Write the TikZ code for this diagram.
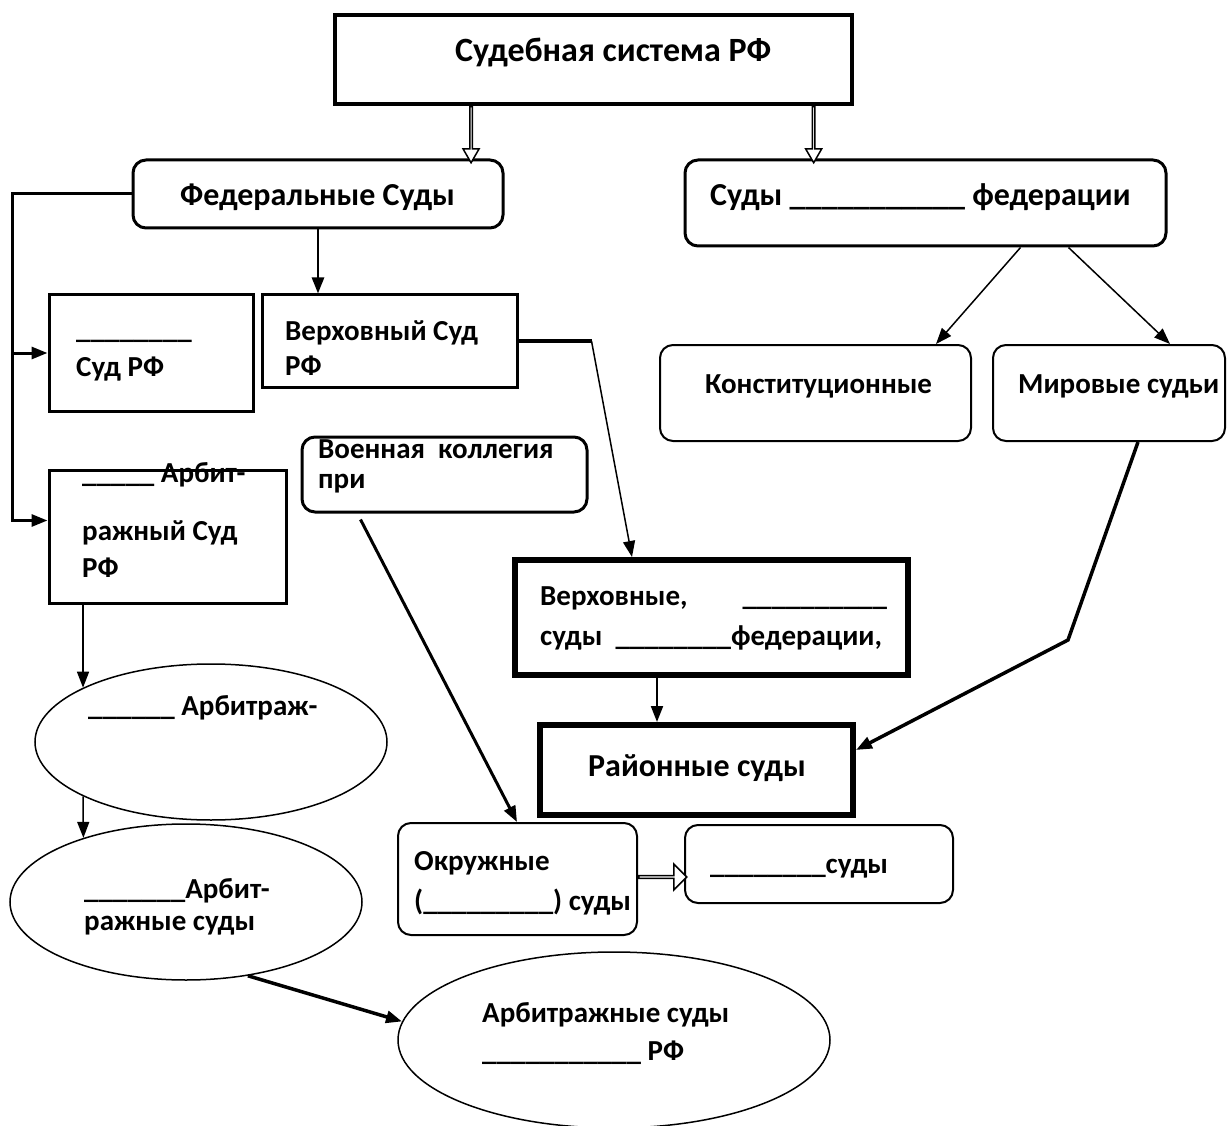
\documentclass[tikz,border=0pt]{standalone}
\usepackage{fontspec}
\setmainfont{Carlito}
\usetikzlibrary{positioning,calc,shapes,arrows.meta}

\newcommand\boxfont{\fontsize{29}{35}\selectfont\bfseries}
\newcommand\bigboxfont{\fontsize{32}{38}\selectfont\bfseries}
\newcommand\headfont{\fontsize{34}{40}\selectfont\bfseries}

\begin{document}
\begin{tikzpicture}[x=1pt,y=-1pt,>={Triangle[length=16pt,width=12pt]},
  box/.style={draw,line width=3pt,inner sep=0pt},
  rbox/.style={box,rounded corners=13pt},
  heavy/.style={draw,line width=6pt,inner sep=0pt},
  oval/.style={draw,ellipse,line width=1.5pt,inner sep=0pt},
  txt/.style={anchor=base west,inner sep=0pt,align=left,font=\boxfont},
  hollow/.style={draw,single arrow,line width=1.5pt,inner sep=0pt,fill=white}]
  \useasboundingbox (0,0) rectangle (1227,1126);

  \node[box,line width=4pt,minimum width=517pt,minimum height=89pt] (sys) at (593.5,59.5) {};
  \node[txt,font=\headfont] (sys-t) at (455,62) {Судебная система РФ};

  \node[rbox,minimum width=370pt,minimum height=68pt] (fed) at (318,194) {};
  \node[txt,font=\bigboxfont] (fed-t) at (180,206) {Федеральные Суды};
  \node[rbox,minimum width=481pt,minimum height=86pt] (subj) at (925.5,203) {};
  \node[txt,font=\bigboxfont] (subj-t) at (710,206) {Суды \_\_\_\_\_\_\_\_\_\_\_ федерации};

  \node[hollow,rotate=-90,anchor=tail,minimum height=56pt,minimum width=16pt,
    single arrow head extend=4pt,single arrow tip angle=60] (a-fed)
    at ($(sys.south west)!0.265!(sys.south east)$) {};
  \node[hollow,rotate=-90,anchor=tail,minimum height=56pt,minimum width=16pt,
    single arrow head extend=4pt,single arrow tip angle=60] (a-subj)
    at ($(sys.south west)!0.9226!(sys.south east)$) {};

  \node[box,minimum width=204pt,minimum height=116pt] (sudrf) at (151,353) {};
  \node[txt] (sudrf-t) at (76,376) {\_\_\_\_\_\_\_\_\\[3pt]Суд РФ};
  \node[box,minimum width=255pt,minimum height=92pt] (ver) at (389.5,341) {};
  \node[txt] (ver-t) at (285,375) {Верховный Суд\\РФ};
  \node[rbox,minimum width=285pt,minimum height=75pt] (voen) at (444.5,474.5) {};
  \node[txt] (voen-t) at (318,488) {Военная\ \ коллегия\\[-5pt]при};
  \node[box,minimum width=237pt,minimum height=133pt] (arb) at (167.5,536.5) {};
  \node[txt] (arb-t) at (82,577) {\_\_\_\_\_ Арбит-\\[23pt]ражный Суд\\[2pt]РФ};

  \node[rbox,line width=2pt,minimum width=311pt,minimum height=96pt] (konst) at (815.5,393) {};
  \node[txt] (konst-t) at (705,393) {Конституционные};
  \node[rbox,line width=2pt,minimum width=232pt,minimum height=96pt] (mir) at (1109,393) {};
  \node[txt] (mir-t) at (1018,393) {Мировые судьи};

  \node[heavy,minimum width=393pt,minimum height=115pt] (verh) at (711.5,617.5) {};
  \node[txt] (verh-t) at (540,645) {Верховные,\hspace{1.9em}\_\_\_\_\_\_\_\_\_\_\\[5pt]суды\ \ \_\_\_\_\_\_\_\_федерации,};
  \node[heavy,minimum width=313pt,minimum height=90pt] (rai) at (696.5,770) {};
  \node[txt,font=\bigboxfont] (rai-t) at (588,776) {Районные суды};

  \node[rbox,line width=2pt,minimum width=239pt,minimum height=112pt] (okr) at (517.5,879) {};
  \node[txt] (okr-t) at (414,910) {Окружные\\[5pt](\_\_\_\_\_\_\_\_\_) суды};
  \node[rbox,line width=2pt,minimum width=268pt,minimum height=78pt] (oth) at (819,864) {};
  \node[txt] (oth-t) at (710,873) {\_\_\_\_\_\_\_\_суды};
  \node[hollow,anchor=tail,minimum height=48pt,minimum width=26pt,
    single arrow head extend=7pt] (a-okr) at ($(okr.east)+(0,-2)$) {};

  \node[oval,minimum width=352pt,minimum height=156pt] (ell1) at (211,742) {};
  \node[txt] (ell1-t) at (88,715) {\_\_\_\_\_\_ Арбитраж-};
  \node[oval,minimum width=352pt,minimum height=156pt] (ell2) at (186,902) {};
  \node[txt] (ell2-t) at (84,930) {\_\_\_\_\_\_\_Арбит-\\[-3pt]ражные суды};
  \node[oval,minimum width=432pt,minimum height=176pt] (ell3) at (614,1040) {};
  \node[txt] (ell3-t) at (482,1060) {Арбитражные суды\\[3pt]\_\_\_\_\_\_\_\_\_\_\_ РФ};

  \coordinate (lft) at (12,0);
  \coordinate (arbin) at ($(arb.west)+(0,-16)$);
  \coordinate (vbend) at ($(ver.east)+(73,0)$);
  \coordinate (mbend) at (1068,640);
  \coordinate (rtop) at ($(rai.north west)+(120,0)$);

  \draw[->,line width=2.5pt] (fed.south) -- (fed.south |- ver.north);
  \draw[->,line width=3pt] (fed.west) -| (lft |- arbin) -- (arbin);
  \draw[->,line width=3pt] (lft |- sudrf.west) -- (sudrf.west);
  \draw[line width=3.5pt] (ver.east) -- (vbend);
  \draw[->,line width=1.5pt] (vbend) -- ($(verh.north west)+(120,0)$);
  \draw[->,line width=3pt] ($(voen.south west)+(60,6)$) -- ($(okr.north west)+(120,0)$);
  \draw[->,line width=1.5pt] ($(subj.south)+(95,0)$) -- ($(konst.north east)+(-36,0)$);
  \draw[->,line width=1.5pt] ($(subj.south)+(143,0)$) -- ($(mir.north)+(61,0)$);
  \draw[->,line width=3.5pt] ($(mir.south)+(29,0)$) -- (mbend) -- ($(rai.east)+(0,-20)$);
  \draw[->,line width=2pt] (verh.south -| rtop) -- (rtop);
  \draw[->,line width=1.5pt] (arb.south -| ell1.157) -- (ell1.157);
  \draw[->,line width=1.5pt] (ell1.203) -- (ell2.148);
  \draw[->,line width=3.5pt] (ell2.310) -- (ell3.175);
\end{tikzpicture}
\end{document}
